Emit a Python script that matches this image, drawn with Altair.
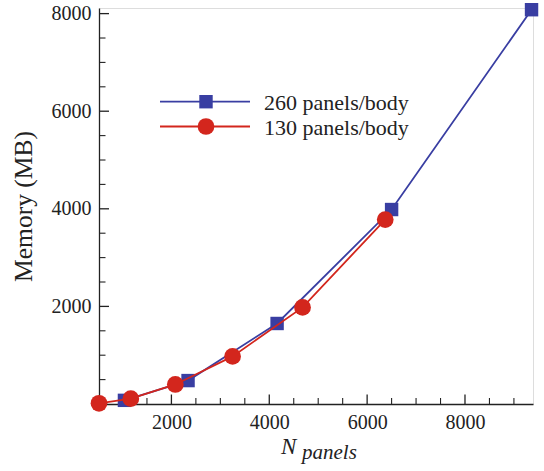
import altair as alt
import pandas as pd

# ---- data ----
n_260 = [1040, 2340, 4160, 6500, 9360]
mem_260 = [75, 480, 1650, 3985, 8080]
n_130 = [520, 1170, 2080, 3250, 4680, 6370]
mem_130 = [15, 110, 400, 975, 1980, 3780]

series_labels = ["260 panels/body", "130 panels/body"]
series_colors = ["#393ea2", "#d3261d"]

x_ticks_major = [2000, 4000, 6000, 8000]
x_ticks_minor = [1000, 1500, 2500, 3000, 3500, 4500, 5000, 5500, 6500, 7000, 7500, 8500, 9000]
y_ticks_major = [2000, 4000, 6000, 8000]
y_ticks_minor = [500, 1000, 1500, 2500, 3000, 3500, 4500, 5000, 5500, 6500, 7000, 7500]

X_DOMAIN = [520, 9390]
Y_DOMAIN = [0, 8115]
W, H = 434, 396
FONT = "Liberation Serif"
INK = "#222222"

xs = alt.Scale(domain=X_DOMAIN, nice=False, zero=False)
ys = alt.Scale(domain=Y_DOMAIN, nice=False, zero=False)

df260 = pd.DataFrame({"x": n_260, "y": mem_260})
df130 = pd.DataFrame({"x": n_130, "y": mem_130})

xaxis = alt.Axis(values=x_ticks_major, format="d", ticks=False, grid=False, domainColor=INK,
                 domainWidth=1.3, labelFont=FONT, labelFontSize=20, labelColor=INK,
                 labelPadding=8, title=None, labelFlush=False)
yaxis = alt.Axis(values=y_ticks_major, format="d", ticks=False, grid=False, domainColor=INK,
                 domainWidth=1.3, labelFont=FONT, labelFontSize=20, labelColor=INK,
                 labelPadding=8, title="Memory (MB)", titleFont=FONT, titleFontSize=25.5,
                 titleFontWeight="normal", titleColor=INK, titlePadding=15)

base_axes = alt.Chart(df260).mark_point(opacity=0).encode(
    x=alt.X("x:Q", scale=xs, axis=xaxis),
    y=alt.Y("y:Q", scale=ys, axis=yaxis),
)

line260 = alt.Chart(df260).mark_line(color=series_colors[0], strokeWidth=1.8).encode(
    x=alt.X("x:Q", scale=xs), y=alt.Y("y:Q", scale=ys))
pts260 = alt.Chart(df260).mark_point(shape="square", filled=True, size=180, opacity=1,
                                     color=series_colors[0]).encode(
    x=alt.X("x:Q", scale=xs), y=alt.Y("y:Q", scale=ys))
line130 = alt.Chart(df130).mark_line(color=series_colors[1], strokeWidth=1.8).encode(
    x=alt.X("x:Q", scale=xs), y=alt.Y("y:Q", scale=ys))
pts130 = alt.Chart(df130).mark_point(shape="circle", filled=True, size=280, opacity=1,
                                     color=series_colors[1]).encode(
    x=alt.X("x:Q", scale=xs), y=alt.Y("y:Q", scale=ys))

# inward ticks
ytm = pd.DataFrame({"y": y_ticks_major})
ytn = pd.DataFrame({"y": y_ticks_minor})
xtm = pd.DataFrame({"x": x_ticks_major})
xtn = pd.DataFrame({"x": x_ticks_minor})
tick_y_major = alt.Chart(ytm).mark_rule(color=INK, strokeWidth=1.3).encode(
    y=alt.Y("y:Q", scale=ys), x=alt.value(0), x2=alt.value(10))
tick_y_minor = alt.Chart(ytn).mark_rule(color=INK, strokeWidth=1.1).encode(
    y=alt.Y("y:Q", scale=ys), x=alt.value(0), x2=alt.value(6.5))
tick_x_major = alt.Chart(xtm).mark_rule(color=INK, strokeWidth=1.3).encode(
    x=alt.X("x:Q", scale=xs), y=alt.value(H), y2=alt.value(H - 9.5))
tick_x_minor = alt.Chart(xtn).mark_rule(color=INK, strokeWidth=1.1).encode(
    x=alt.X("x:Q", scale=xs), y=alt.value(H), y2=alt.value(H - 6))

# legend (pixel positions within plot area)
leg = pd.DataFrame({
    "label": series_labels,
    "color": series_colors,
    "ly": [93.7, 118.5],
    "lx1": [61, 61],
    "lx2": [151, 151],
    "lxm": [107, 107],
    "lxt": [165, 165],
})
leg_line = alt.Chart(leg).mark_rule(strokeWidth=1.8).encode(
    x=alt.X("lx1:Q", scale=None), x2="lx2:Q", y=alt.Y("ly:Q", scale=None),
    color=alt.Color("color:N", scale=None))
leg_sq = alt.Chart(leg.iloc[[0]]).mark_point(shape="square", filled=True, size=180, opacity=1).encode(
    x=alt.X("lxm:Q", scale=None), y=alt.Y("ly:Q", scale=None),
    color=alt.Color("color:N", scale=None))
leg_ci = alt.Chart(leg.iloc[[1]]).mark_point(shape="circle", filled=True, size=280, opacity=1).encode(
    x=alt.X("lxm:Q", scale=None), y=alt.Y("ly:Q", scale=None),
    color=alt.Color("color:N", scale=None))
leg_txt = alt.Chart(leg).mark_text(align="left", baseline="middle", font=FONT, fontSize=22,
                                   color=INK, dy=1).encode(
    x=alt.X("lxt:Q", scale=None), y=alt.Y("ly:Q", scale=None), text="label:N")

# x-axis title N_panels
xt = pd.DataFrame({"t": ["N"], "t2": ["panels"]})
xtitle_n = alt.Chart(xt).mark_text(align="left", baseline="alphabetic", font=FONT,
                                   fontStyle="italic", fontSize=23, color=INK).encode(
    x=alt.value(182), y=alt.value(446), text="t:N")
xtitle_sub = alt.Chart(xt).mark_text(align="left", baseline="alphabetic", font=FONT,
                                     fontStyle="italic", fontSize=21, color=INK).encode(
    x=alt.value(203), y=alt.value(451), text="t2:N")

chart = alt.layer(
    base_axes, tick_y_major, tick_y_minor, tick_x_major, tick_x_minor,
    line260, pts260, line130, pts130,
    leg_line, leg_sq, leg_ci, leg_txt, xtitle_n, xtitle_sub,
).properties(
    width=W, height=H,
    autosize=alt.AutoSizeParams(type="none"),
    padding={"left": 99, "top": 8, "right": 11, "bottom": 67},
).configure_view(stroke=None).configure(background="white")

chart.save("out.html", embed_options={"renderer": "svg", "actions": False})
